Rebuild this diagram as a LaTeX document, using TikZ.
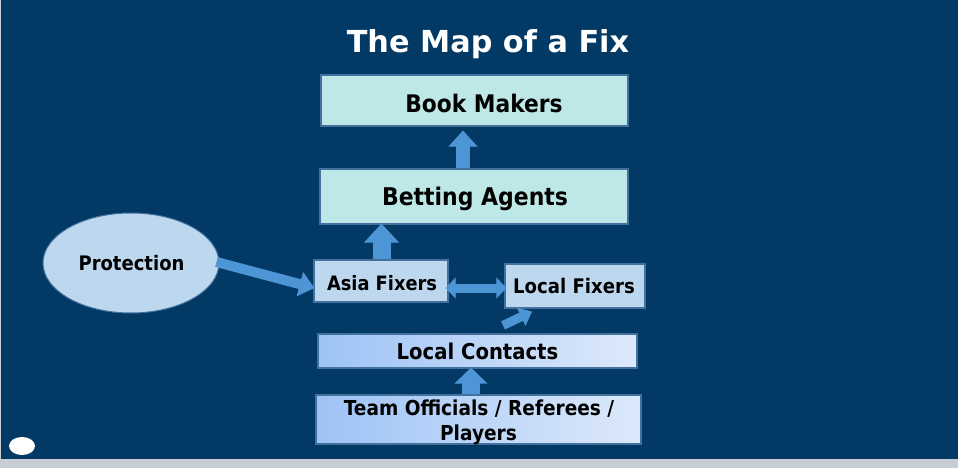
\documentclass[tikz,border=0pt]{standalone}
\usepackage{fontspec}
\setmainfont{DejaVu Sans}[FakeStretch=0.9]
\newfontfamily\titlefont{DejaVu Sans}
\usetikzlibrary{arrows.meta,calc,shapes.geometric}
\definecolor{bgblue}{HTML}{023A65}
\definecolor{cyanfill}{HTML}{BEE8E8}
\definecolor{boxedge}{HTML}{41719C}
\definecolor{lightfill}{HTML}{BDD7EE}
\definecolor{gradL}{HTML}{9DC3F5}
\definecolor{gradR}{HTML}{DDE9FB}
\definecolor{arrowblue}{HTML}{4E95D6}
\definecolor{stripgray}{HTML}{C8CDD3}
\tikzset{
  boxbase/.style={draw=boxedge, line width=1.2pt, inner sep=0pt},
  cyanbox/.style={boxbase, fill=cyanfill},
  lightbox/.style={boxbase, fill=lightfill},
  gradbox/.style={boxbase, left color=gradL, right color=gradR},
  lbl/.style={anchor=base, font=\bfseries, text=black, inner sep=0pt},
  blk/.style={draw=arrowblue, line cap=butt},
}
\begin{document}
\begin{tikzpicture}[x=1pt,y=-1pt]
\useasboundingbox (0,0) rectangle (958,468);
\fill[bgblue] (0,0) rectangle (958,468);
\fill[stripgray] (0,459) rectangle (958,468);
\fill[stripgray] (0,0) rectangle (1.2,459);

% title
\node[lbl, text=white, font=\titlefont\bfseries\fontsize{30.3}{34}\selectfont] (title) at (488,53) {The Map of a Fix};

% boxes
\node[cyanbox, minimum width=307pt, minimum height=51pt] (bm) at (474.5,100.5) {};
\node[cyanbox, minimum width=308pt, minimum height=55pt] (ba) at (474,196.5) {};
\node[ellipse, draw=boxedge, line width=1pt, fill=lightfill, minimum width=176pt, minimum height=100pt, inner sep=0pt] (prot) at (131,263) {};
\node[lightbox, minimum width=134pt, minimum height=42pt] (af) at (381,281) {};
\node[lightbox, minimum width=140pt, minimum height=44pt] (lf) at (575,286) {};
\node[gradbox, minimum width=319pt, minimum height=34pt] (lc) at (477.5,351) {};
\node[gradbox, minimum width=325pt, minimum height=49pt] (team) at (478.5,419.5) {};

% labels
\node[lbl, font=\bfseries\fontsize{24.2}{28}\selectfont] (bmt) at (484,113) {Book Makers};
\node[lbl, font=\bfseries\fontsize{24.4}{28}\selectfont] (bat) at (475,205) {Betting Agents};
\node[lbl, font=\bfseries\fontsize{20}{24}\selectfont] (prott) at (131.5,270) {Protection};
\node[lbl, font=\bfseries\fontsize{19.8}{24}\selectfont] (aft) at (382,290.5) {Asia Fixers};
\node[lbl, font=\bfseries\fontsize{20.1}{24}\selectfont] (lft) at (574,293) {Local Fixers};
\node[lbl, font=\bfseries\fontsize{21.8}{26}\selectfont] (lct) at (477.5,359) {Local Contacts};
\node[lbl, font=\bfseries\fontsize{20.6}{24}\selectfont] (teamt1) at (479,415) {Team Officials / Referees /};
\node[lbl, font=\bfseries\fontsize{20.6}{24}\selectfont] (teamt2) at (478.5,440) {Players};

% block arrows
\draw[blk, line width=14pt, -{Triangle[width=29pt,length=16pt,line width=0.8pt,fill=arrowblue,color=arrowblue]}]
  ($(ba.north)+(-11,0)$) -- ($(bm.south)+(-11.5,4)$);
\draw[blk, line width=18pt, -{Triangle[width=35pt,length=19pt,line width=0.8pt,fill=arrowblue,color=arrowblue]}]
  ($(af.north)+(0.5,0)$) -- ($(ba.south)+(-92.5,-1)$);
\draw[blk, line width=10pt, -{Triangle[width=25pt,length=15pt,line width=0.8pt,fill=arrowblue,color=arrowblue]}]
  ($(prot.east)+(-3,-1)$) -- ($(af.west)+(1,7)$);
\draw[blk, line width=9pt, {Triangle[width=21pt,length=10pt,line width=0.8pt,fill=arrowblue,color=arrowblue]}-{Triangle[width=21pt,length=10pt,line width=0.8pt,fill=arrowblue,color=arrowblue]}]
  ($(af.east)+(-3,7)$) -- ($(lf.west)+(2,2)$);
\draw[blk, line width=9pt, -{Triangle[width=20pt,length=12pt,line width=0.8pt,fill=arrowblue,color=arrowblue]}]
  ($(lc.north)+(25.5,-8)$) -- ($(lf.south)+(-43,3)$);
\draw[blk, line width=18pt, -{Triangle[width=33pt,length=16pt,line width=0.8pt,fill=arrowblue,color=arrowblue]}]
  ($(team.north)+(-7.5,0)$) -- ($(lc.south)+(-6.5,-1)$);

% white dot
\fill[white] (22,446) ellipse [x radius=13pt, y radius=9pt];
\end{tikzpicture}
\end{document}
